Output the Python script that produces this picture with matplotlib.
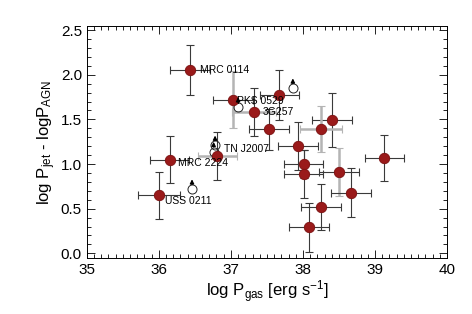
import numpy as np
import matplotlib
matplotlib.use('Agg')
import matplotlib.pyplot as plt
from matplotlib.ticker import MultipleLocator

plt.rcParams['font.family'] = 'Liberation Sans'
plt.rcParams['mathtext.fontset'] = 'custom'
plt.rcParams['mathtext.rm'] = 'Liberation Sans'
plt.rcParams['mathtext.it'] = 'Liberation Sans'

# detected sources
x = [36.43, 37.03, 37.32, 37.67, 37.53, 38.40, 38.25, 37.93, 38.01,
     38.01, 38.50, 39.13, 38.67, 38.25, 38.08, 36.15, 36.00, 36.81]
y = [2.05, 1.72, 1.58, 1.77, 1.39, 1.49, 1.39, 1.20, 1.00,
     0.89, 0.91, 1.07, 0.68, 0.52, 0.29, 1.05, 0.65, 1.09]
xerr = [0.28, 0.28, 0.30, 0.27, 0.28, 0.28, 0.29, 0.28, 0.27,
        0.27, 0.28, 0.27, 0.28, 0.28, 0.28, 0.27, 0.29, 0.27]
yerr = [0.28, 0.32, 0.27, 0.28, 0.23, 0.30, 0.26, 0.27, 0.16,
        0.27, 0.27, 0.26, 0.27, 0.26, 0.27, 0.26, 0.26, 0.27]
gray_x = [2, 6, 17]
gray_y = [1, 6, 10]

# lower limits (open circles with arrows)
lim_x = [37.10, 37.86, 36.78, 36.76, 36.46]
lim_y = [1.64, 1.85, 1.21, 1.14, 0.72]

# labels
names = ['MRC 0114', 'PKS 0529', '3G257', 'TN J2007', 'MRC 2224', 'USS 0211']
name_x = [36.57, 37.08, 37.44, 36.90, 36.26, 36.08]
name_y = [2.05, 1.71, 1.58, 1.17, 1.01, 0.59]

fig = plt.figure(figsize=(4.72, 3.14), dpi=100)
ax = fig.add_axes([0.184, 0.179, 0.763, 0.738])

for i in range(len(x)):
    cx = '#b4b4b4' if i in gray_x else '#3a3a3a'
    cy = '#b4b4b4' if i in gray_y else '#3a3a3a'
    lwx = 1.8 if i in gray_x else 0.8
    lwy = 1.8 if i in gray_y else 0.8
    ax.errorbar(x[i], y[i], xerr=xerr[i], fmt='none', ecolor=cx,
                elinewidth=lwx, capsize=3, capthick=0.8)
    ax.errorbar(x[i], y[i], yerr=yerr[i], fmt='none', ecolor=cy,
                elinewidth=lwy, capsize=3, capthick=0.8)

ax.plot(x, y, 'o', ms=7.5, color='#9a1a1a', mec='#7a1010', mew=0.6, zorder=5)

ax.plot(lim_x, lim_y, 'o', ms=6.5, mfc='none', mec='#222222', mew=0.7, zorder=4)
for lx, ly in zip(lim_x, lim_y):
    ax.annotate('', xy=(lx, ly + 0.14), xytext=(lx, ly + 0.02),
                arrowprops=dict(arrowstyle='-|>', color='black', lw=0.9,
                                mutation_scale=6), zorder=6)

for n, nx, ny in zip(names, name_x, name_y):
    ax.text(nx, ny, n, fontsize=7.5, va='center', ha='left', zorder=7)

ax.set_xlim(35, 40)
ax.set_ylim(-0.05, 2.545)
ax.xaxis.set_major_locator(MultipleLocator(1))
ax.xaxis.set_minor_locator(MultipleLocator(0.1))
ax.yaxis.set_major_locator(MultipleLocator(0.5))
ax.yaxis.set_minor_locator(MultipleLocator(0.1))
ax.yaxis.set_major_formatter(matplotlib.ticker.FormatStrFormatter('%.1f'))
ax.tick_params(which='both', direction='in', top=True, right=True,
               labelsize=11, width=0.6)
ax.tick_params(which='major', length=6)
ax.tick_params(which='minor', length=3)
for s in ax.spines.values():
    s.set_linewidth(0.7)

ax.set_xlabel(r'log P$_{\rm gas}$ [erg s$^{-1}$]', fontsize=12, labelpad=1)
ax.set_ylabel(r'log P$_{\rm jet}$ - logP$_{\rm AGN}$', fontsize=12, labelpad=2)

fig.savefig('out.png', dpi=100)
